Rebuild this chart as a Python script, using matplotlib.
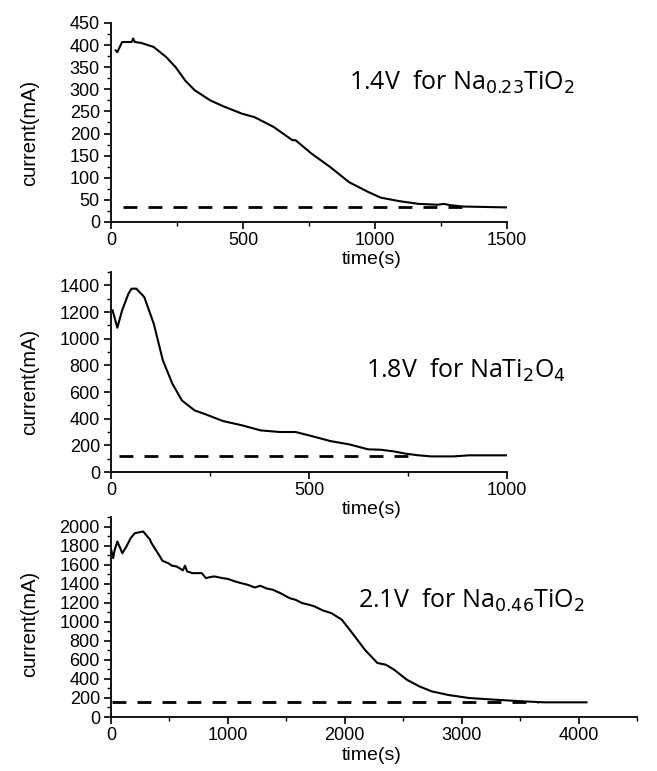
import numpy as np
import matplotlib.pyplot as plt
from matplotlib.ticker import MultipleLocator

# panel 1: 1.4V for Na0.23TiO2
t1 = [18, 24, 42, 78, 84, 90, 114, 161, 209, 245, 281, 317, 376, 424, 496, 544,
      616, 687, 699, 759, 831, 902, 974, 1022, 1094, 1165, 1237, 1261, 1285, 1333, 1416, 1500]
i1 = [388, 384, 407, 407, 415, 407, 405, 396, 373, 350, 320, 298, 275, 262, 245, 237,
      215, 185, 185, 155, 124, 90, 68, 55, 47, 41, 39, 41, 38, 35, 34, 33]
base1 = 34
dash1 = [44, 1330]

# panel 2: 1.8V for NaTi2O4
t2 = [4, 16, 28, 44, 52, 64, 84, 108, 131, 155, 179, 211, 235, 283, 331, 378, 426,
      466, 506, 554, 602, 649, 681, 713, 745, 777, 809, 865, 904, 1000]
i2 = [1212, 1082, 1212, 1337, 1375, 1375, 1312, 1112, 837, 662, 537, 462, 437, 382,
      350, 312, 300, 300, 270, 232, 207, 170, 167, 155, 137, 125, 117, 117, 125, 125]
base2 = 120
dash2 = [20, 770]

# panel 3: 2.1V for Na0.46TiO2 (noisy trace)
t3 = [0, 1, 18, 32, 54, 79, 97, 132, 168, 204, 276, 311, 330, 347, 380, 419, 440,
      490, 520, 562, 615, 633, 651, 700, 776, 812, 850, 884, 955, 1000, 1063, 1100,
      1170, 1230, 1277, 1330, 1385, 1450, 1528, 1580, 1635, 1690, 1742, 1810, 1885,
      1975, 2064, 2172, 2279, 2351, 2422, 2530, 2637, 2744, 2887, 3066, 3281, 3531,
      3710, 4068]
i3 = [1720, 1755, 1668, 1755, 1843, 1773, 1720, 1790, 1878, 1930, 1948, 1895, 1870,
      1825, 1760, 1685, 1640, 1615, 1590, 1580, 1540, 1588, 1528, 1510, 1511, 1458,
      1470, 1476, 1458, 1450, 1423, 1410, 1388, 1360, 1378, 1350, 1336, 1300, 1248,
      1230, 1196, 1180, 1161, 1120, 1091, 1021, 881, 706, 567, 549, 497, 392, 322,
      269, 231, 199, 182, 164, 154, 154]
base3 = 153
dash3 = [5, 3650]

plt.rcParams['font.family'] = ['Liberation Sans Narrow', 'Liberation Sans', 'DejaVu Sans']

fig = plt.figure(figsize=(6.57, 7.71), dpi=100)
W, H = 657, 771

panels = [
    dict(t=t1, i=i1, base=base1, dash=dash1, box=(111, 507, 23, 222),
         xlim=(0, 1500), ylim=(0, 450), xmaj=500, xmin=250, ymaj=50, ymin=25,
         label='1.4V  for Na$_{0.23}$TiO$_2$', txt=(349, 82), xlab_y=259, ylab_y=133),
    dict(t=t2, i=i2, base=base2, dash=dash2, box=(111, 507, 272, 472),
         xlim=(0, 1000), ylim=(0, 1500), xmaj=500, xmin=250, ymaj=200, ymin=100,
         label='1.8V  for NaTi$_2$O$_4$', txt=(366, 370), xlab_y=509, ylab_y=382),
    dict(t=t3, i=i3, base=base3, dash=dash3, box=(111, 637, 517, 717),
         xlim=(0, 4500), ylim=(0, 2100), xmaj=1000, xmin=500, ymaj=200, ymin=100,
         label='2.1V  for Na$_{0.46}$TiO$_2$', txt=(358, 600), xlab_y=756, ylab_y=624),
]

for p in panels:
    x0, x1, ytop, ybot = p['box']
    ax = fig.add_axes([x0 / W, 1 - ybot / H, (x1 - x0) / W, (ybot - ytop) / H])
    ax.patch.set_visible(False)
    ax.plot(p['t'], p['i'], color='black', lw=1.5)
    ax.plot(p['dash'], [p['base'], p['base']], color='black', lw=2,
            linestyle=(0, (5, 4)))
    ax.set_xlim(*p['xlim'])
    ax.set_ylim(*p['ylim'])
    ax.spines['top'].set_visible(False)
    ax.spines['right'].set_visible(False)
    ax.spines['left'].set_linewidth(1.3)
    ax.spines['bottom'].set_linewidth(1.3)
    ax.xaxis.set_major_locator(MultipleLocator(p['xmaj']))
    ax.xaxis.set_minor_locator(MultipleLocator(p['xmin']))
    ax.yaxis.set_major_locator(MultipleLocator(p['ymaj']))
    ax.yaxis.set_minor_locator(MultipleLocator(p['ymin']))
    ax.tick_params(which='major', length=5, width=1.2, labelsize=13, pad=3)
    ax.tick_params(axis='x', which='major', pad=2)
    ax.tick_params(which='minor', length=3, width=1.0)
    ax.set_xlabel('time(s)', fontsize=14, va='center')
    ax.set_ylabel('current(mA)', fontsize=14.5, va='center')
    # label positions in axes coordinates
    ax.xaxis.set_label_coords((372 - x0) / (x1 - x0), -(p['xlab_y'] - ybot) / (ybot - ytop))
    ax.yaxis.set_label_coords(-(x0 - 30) / (x1 - x0), (ybot - p['ylab_y']) / (ybot - ytop))
    fig.text(p['txt'][0] / W, 1 - p['txt'][1] / H, p['label'], fontsize=18,
             family='Open Sans', ha='left', va='center')

fig.savefig('out.png', dpi=100)
